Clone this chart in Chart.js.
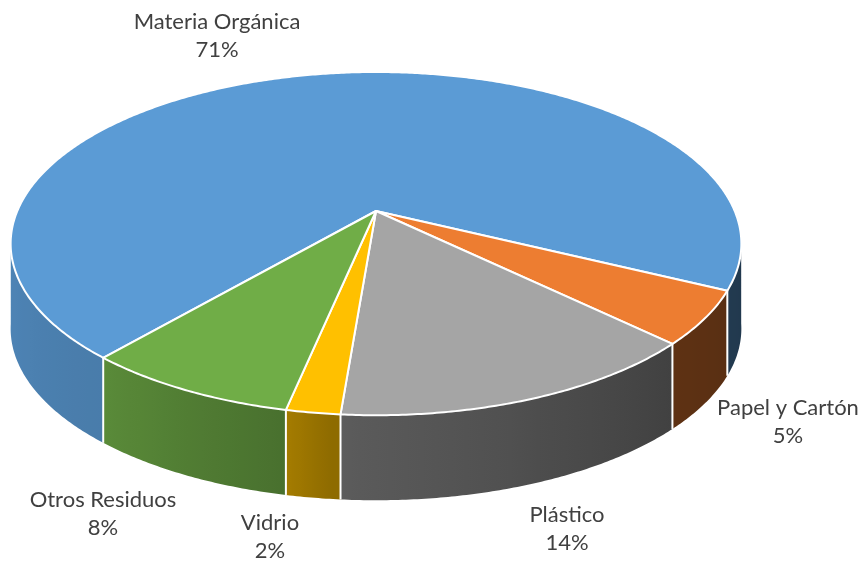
<!DOCTYPE html>
<html><head><meta charset="utf-8">
<script src="https://cdn.jsdelivr.net/npm/chart.js@4.4.1/dist/chart.umd.min.js"></script>
<style>html,body{margin:0;padding:0;background:#fff}</style>
</head><body>
<canvas id="c" width="862" height="564"></canvas>
<script>
// Composición de residuos (porcentaje)
const categories = ['Materia Orgánica', 'Papel y Cartón', 'Plástico', 'Vidrio', 'Otros Residuos'];
const shares = [71, 5, 14, 2, 8];
const percentLabels = ['71%', '5%', '14%', '2%', '8%'];
const sliceColors = ['#5B9BD5', '#ED7D31', '#A5A5A5', '#FFC000', '#70AD47'];
// label block centres (x, y of the first line)
const labelAnchors = [[217, 22], [788, 408], [567, 515], [270, 523], [103, 500]];

// tilted-disc look: horizontal / vertical stretch of the library's radius,
// perspective strength and thickness of the disc
const tilt = { sx: 1.70, sy: 0.784, k: 0.19, depth: 0.403 };
// wall lighting: [angle in degrees, brightness factor]
const wallLight = [[0, 0.35], [30, 0.38], [47, 0.40], [96, 0.56], [102, 0.65], [130, 0.80], [180, 0.87]];

function hexRgb(h) {
  const n = parseInt(h.slice(1), 16);
  return [(n >> 16) & 255, (n >> 8) & 255, n & 255];
}
function lightAt(theta) {
  let d = theta * 180 / Math.PI % 360;
  if (d < 0) d += 360;
  if (d > 180) d = d > 270 ? 0 : 180;
  for (let i = 1; i < wallLight.length; i++) {
    const [a1, f1] = wallLight[i - 1], [a2, f2] = wallLight[i];
    if (d <= a2) return f1 + (f2 - f1) * (d - a1) / (a2 - a1);
  }
  return wallLight[wallLight.length - 1][1];
}
function sideShade(hex, theta) {
  const f = lightAt(theta);
  const [r, g, b] = hexRgb(hex);
  return `rgb(${Math.round(r * f)},${Math.round(g * f)},${Math.round(b * f)})`;
}

const pie3d = {
  id: 'pie3d',
  beforeDatasetsDraw(chart) {
    const ctx = chart.ctx;
    const arcs = chart.getDatasetMeta(0).data;
    if (!arcs.length) return false;
    const a0 = arcs[0];
    const g = {
      cx: a0.x, cy: a0.y,
      A: a0.outerRadius * tilt.sx, B: a0.outerRadius * tilt.sy,
      k: tilt.k, D: a0.outerRadius * tilt.depth
    };
    const proj = (t, drop) => {
      const u = Math.cos(t), v = Math.sin(t), w = 1 - g.k * v;
      return [g.cx + g.A * u / w, g.cy + g.B * v / w + (drop || 0)];
    };
    const step = Math.PI / 360;
    const visible = t => Math.sin(t) > g.k - 0.03;

    ctx.save();
    ctx.lineJoin = 'round';

    // side wall: one gradient-filled band per visible run of each slice
    arcs.forEach((arc, i) => {
      const s = arc.startAngle, e = arc.endAngle;
      const n = Math.max(2, Math.ceil((e - s) / step));
      const runs = [];
      let cur = null;
      for (let j = 0; j <= n; j++) {
        const t = s + (e - s) * j / n;
        if (visible(t)) { if (!cur) { cur = []; runs.push(cur); } cur.push(t); }
        else cur = null;
      }
      runs.forEach(run => {
        if (run.length < 2) return;
        const top = run.map(t => proj(t));
        const bot = run.map(t => proj(t, g.D));
        const xs = top.map(p => p[0]);
        const x0 = Math.min(...xs), x1 = Math.max(...xs);
        const span = x1 - x0 + 0.001;
        const grad = ctx.createLinearGradient(x0, 0, x0 + span, 0);
        const m = Math.max(1, Math.floor(run.length / 12));
        const stop = j => grad.addColorStop(Math.min(1, Math.max(0, (xs[j] - x0) / span)), sideShade(sliceColors[i], run[j]));
        for (let j = 0; j < run.length; j += m) stop(j);
        stop(run.length - 1);
        ctx.beginPath();
        top.forEach((p, j) => j ? ctx.lineTo(p[0], p[1]) : ctx.moveTo(p[0], p[1]));
        for (let j = bot.length - 1; j >= 0; j--) ctx.lineTo(bot[j][0], bot[j][1]);
        ctx.closePath();
        ctx.fillStyle = grad;
        ctx.fill();
      });
    });

    // white seams between slices on the wall
    ctx.strokeStyle = '#ffffff';
    ctx.lineWidth = 2;
    arcs.forEach(arc => {
      const t = arc.startAngle;
      if (Math.sin(t) > g.k) {
        const p = proj(t), q = proj(t, g.D);
        ctx.beginPath(); ctx.moveTo(p[0], p[1]); ctx.lineTo(q[0], q[1]); ctx.stroke();
      }
    });

    // top face
    arcs.forEach((arc, i) => {
      const s = arc.startAngle, e = arc.endAngle;
      const n = Math.max(2, Math.ceil((e - s) / step));
      ctx.beginPath();
      ctx.moveTo(g.cx, g.cy);
      for (let j = 0; j <= n; j++) {
        const p = proj(s + (e - s) * j / n);
        ctx.lineTo(p[0], p[1]);
      }
      ctx.closePath();
      ctx.fillStyle = sliceColors[i];
      ctx.fill();
      ctx.strokeStyle = '#ffffff';
      ctx.lineWidth = 2;
      ctx.stroke();
    });

    // data labels
    ctx.fillStyle = '#404040';
    ctx.font = '22px Lato, "Open Sans", sans-serif';
    ctx.textAlign = 'center';
    ctx.textBaseline = 'middle';
    arcs.forEach((arc, i) => {
      const [x, y] = labelAnchors[i];
      ctx.fillText(chart.data.labels[i], x, y);
      ctx.fillText(percentLabels[i], x, y + 28);
    });
    ctx.restore();
    return false;
  }
};

new Chart(document.getElementById('c'), {
  type: 'pie',
  data: {
    labels: categories,
    datasets: [{ data: shares, backgroundColor: sliceColors, borderWidth: 0 }]
  },
  options: {
    responsive: false,
    animation: false,
    rotation: 220.6,
    layout: { padding: { left: 0, right: 110, top: 0, bottom: 142 } },
    plugins: { legend: { display: false }, tooltip: { enabled: false } }
  },
  plugins: [pie3d]
});
</script>
</body></html>
